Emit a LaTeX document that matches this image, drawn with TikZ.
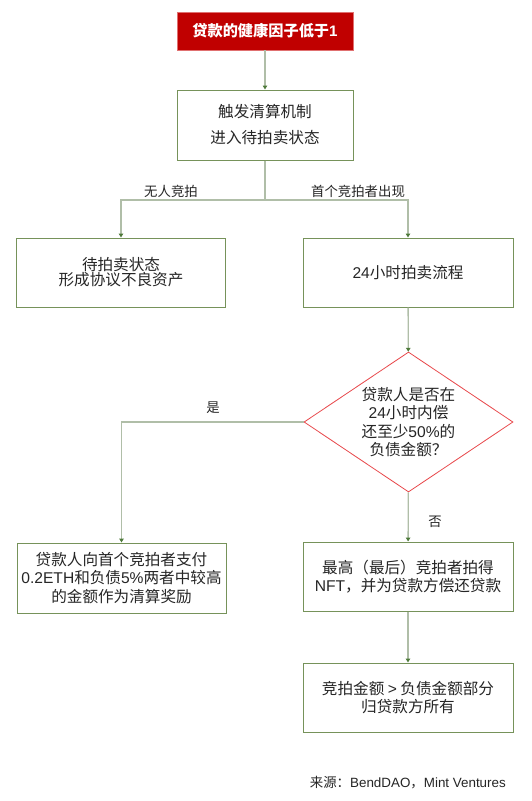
\documentclass[tikz,border=0pt]{standalone}
\usepackage{fontspec}
\setmainfont{Noto Sans CJK SC}
\newfontfamily\lat{Liberation Sans}
\usetikzlibrary{arrows.meta,shapes.geometric}
\definecolor{titlered}{HTML}{C00000}
\definecolor{titleedge}{HTML}{E07070}
\definecolor{boxedge}{HTML}{76925A}
\definecolor{linegray}{HTML}{B0BEA8}
\definecolor{tipgreen}{HTML}{4E7A3A}
\definecolor{diared}{HTML}{E8474A}
\definecolor{txt}{HTML}{262626}
\begin{document}
\begin{tikzpicture}[x=1pt,y=-1pt,
  box/.style={draw=boxedge,line width=1pt,fill=white,text=txt,align=center,inner sep=0pt,
    font=\fontsize{15.6}{18.5}\selectfont},
  redbox/.style={draw=titleedge,line width=0.6pt,fill=titlered,text=white,align=center,inner sep=0pt,
    font=\fontsize{15.2}{18}\selectfont\bfseries},
  conn/.style={draw=linegray,line width=1.3pt,-{Triangle[length=4pt,width=4.5pt,color=tipgreen]}},
  lab/.style={text=txt,font=\fontsize{13.4}{15}\selectfont,inner sep=0pt}]
\useasboundingbox[fill=white] (0,0) rectangle (531,801);
\node[redbox,minimum width=176pt,minimum height=38pt] (top) at (265,31) {贷款的健康因子低于{\lat\bfseries 1}};
\node[box,minimum width=176pt,minimum height=70pt] (trig) at (265,125) {触发清算机制\\[7.5pt]进入待拍卖状态};
\node[box,minimum width=209pt,minimum height=69pt] (nobid) at (121,272.5) {待拍卖状态\\[-3.5pt]形成协议不良资产};
\node[box,minimum width=210pt,minimum height=69pt] (auc) at (408,272.5) {{\lat 24}小时拍卖流程};
\node[diamond,draw=diared,line width=0.8pt,minimum width=209pt,minimum height=140pt,inner sep=0pt] (dec) at (408.5,422) {};
\node[align=center,text=txt,font=\fontsize{15.6}{18.3}\selectfont,inner sep=0pt] (dect) at (dec.center) {贷款人是否在\\{\lat 24}小时内偿\\还至少{\lat 50\%}的\\负债金额？};
\node[box,minimum width=209pt,minimum height=70pt] (reward) at (121.5,578) {贷款人向首个竞拍者支付\\{\lat 0.2ETH}和负债{\lat 5\%}两者中较高\\的金额作为清算奖励};
\node[box,minimum width=210pt,minimum height=69pt] (win) at (408,576.5) {最高（最后）竞拍者拍得\\{\lat NFT}，并为贷款方偿还贷款};
\node[box,minimum width=210pt,minimum height=69pt] (rest) at (408,697.5) {竞拍金额 {\lat >} 负债金额部分\\归贷款方所有};
\coordinate (split) at (265,200);
\draw[conn] (top) -- (trig);
\draw[conn] (trig.south) -- (split) -| (nobid.north);
\draw[conn] (trig.south) -- (split) -| (auc.north);
\draw[conn] (auc) -- (dec);
\draw[conn] (dec.west) -| (reward.north);
\draw[conn] (dec) -- (win);
\draw[conn] (win) -- (rest);
\node[lab] (l1) at (171,191) {无人竞拍};
\node[lab] (l2) at (358,191) {首个竞拍者出现};
\node[lab] (l3) at (213,408) {是};
\node[lab] (l4) at (435,522) {否};
\node[lab,anchor=east] (src) at (506,783) {来源：{\lat BendDAO}，{\lat Mint Ventures}};
\end{tikzpicture}
\end{document}
